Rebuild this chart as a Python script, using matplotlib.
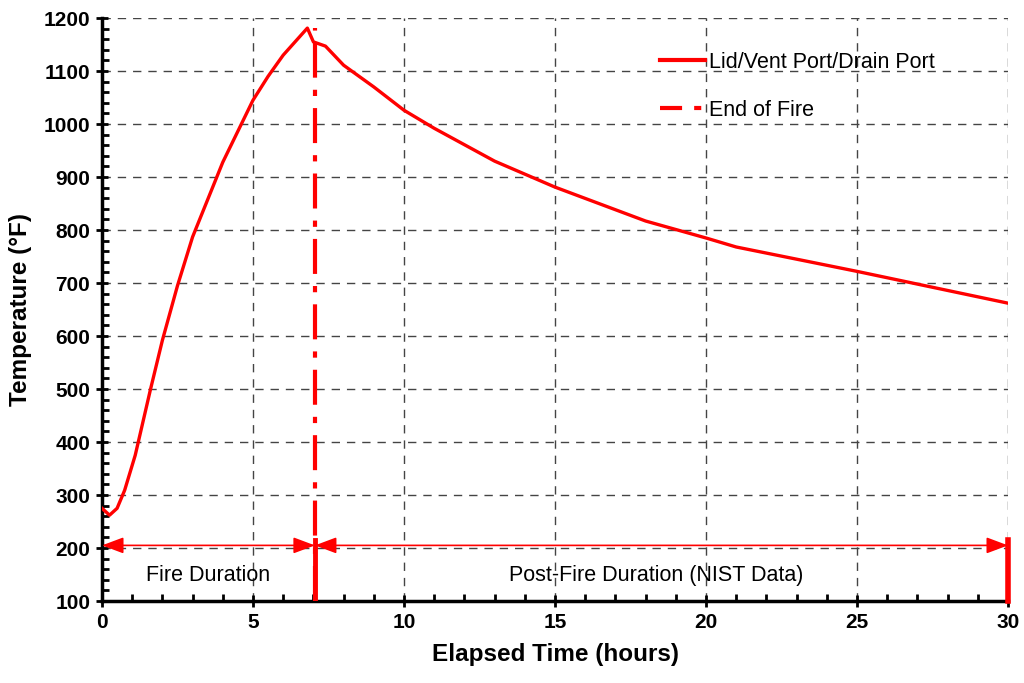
import numpy as np
import matplotlib.pyplot as plt
from matplotlib.lines import Line2D
from matplotlib.ticker import MultipleLocator

plt.rcParams['font.family'] = ['Liberation Sans', 'DejaVu Sans']

# temperature history
hours = [0, 0.25, 0.5, 0.75, 1.1, 1.6, 2.0, 2.5, 3.0, 4.0, 5.0, 5.5, 6.0, 6.8,
         7.0, 7.4, 8.0, 9.0, 10.0, 11.0, 13.0, 15.0, 18.0, 20.0, 21.0, 25.0, 30.0]
temp_f = [275, 262, 275, 309, 375, 498, 592, 695, 787, 928, 1045, 1090, 1130, 1181,
          1155, 1147, 1111, 1070, 1026, 992, 930, 881, 817, 785, 768, 722, 662]

end_of_fire = 7.05
arrow_level = 205
labels = ['Fire Duration', 'Post-Fire Duration (NIST Data)']
label_x = [3.5, 18.35]
legend_labels = ['Lid/Vent Port/Drain Port', 'End of Fire']

fig = plt.figure(figsize=(10.24, 6.83), dpi=100)
ax = fig.add_axes([0.0996, 0.12, 0.8848, 0.8536])

ax.plot(hours, temp_f, color='red', lw=2.4, zorder=4)
ax.plot([end_of_fire, end_of_fire], [100, 1182], color='red', lw=3,
        linestyle=(0, (8.4, 2.9, 1.5, 2.9)), zorder=4)

# solid markers at bottom
ax.plot([end_of_fire, end_of_fire], [100, 215], color='red', lw=3.5, zorder=5)
ax.plot([30, 30], [100, 215], color='red', lw=4, zorder=5, clip_on=False)

arrow = dict(arrowstyle='<|-|>,head_length=1.2,head_width=0.45', color='red', lw=1.2,
             mutation_scale=11, shrinkA=0, shrinkB=0)
ax.annotate('', xy=(0, arrow_level), xytext=(end_of_fire, arrow_level), arrowprops=arrow)
ax.annotate('', xy=(end_of_fire, arrow_level), xytext=(30, arrow_level), arrowprops=arrow)
for x, s in zip(label_x, labels):
    ax.text(x, 149, s, ha='center', va='center', fontsize=15.5)

ax.set_xlim(0, 30)
ax.set_ylim(100, 1200)
ax.xaxis.set_major_locator(MultipleLocator(5))
ax.xaxis.set_minor_locator(MultipleLocator(1))
ax.yaxis.set_major_locator(MultipleLocator(100))
ax.yaxis.set_minor_locator(MultipleLocator(20))
ax.tick_params(which='major', direction='inout', length=9, width=2, labelsize=15, pad=4)
ax.tick_params(which='minor', direction='in', length=5, width=2)
for lab in ax.get_xticklabels() + ax.get_yticklabels():
    lab.set_fontweight('bold')

ax.spines['top'].set_visible(False)
ax.spines['right'].set_visible(False)
ax.spines['left'].set_linewidth(2.5)
ax.spines['bottom'].set_linewidth(2.5)
ax.grid(True, which='major', color='#444444', linestyle=(0, (6, 5)), lw=1)
ax.set_axisbelow(True)

ax.set_xlabel('Elapsed Time (hours)', fontsize=17.5, fontweight='bold', labelpad=8)
ax.set_ylabel('Temperature (°F)', fontsize=17.5, fontweight='bold', labelpad=8)

handles = [Line2D([], [], color='red', lw=3),
           Line2D([], [], color='red', lw=3, linestyle=(0, (5.3, 2.9, 1.7, 2.9)))]
leg = ax.legend(handles, legend_labels, loc='upper left', bbox_to_anchor=(0.6445, 0.924),
                bbox_transform=fig.transFigure, frameon=False, borderpad=0,
                borderaxespad=0, fontsize=15.5, handlelength=2.1,
                handletextpad=0.2, labelspacing=1.25)

fig.savefig('out.png', dpi=100)
